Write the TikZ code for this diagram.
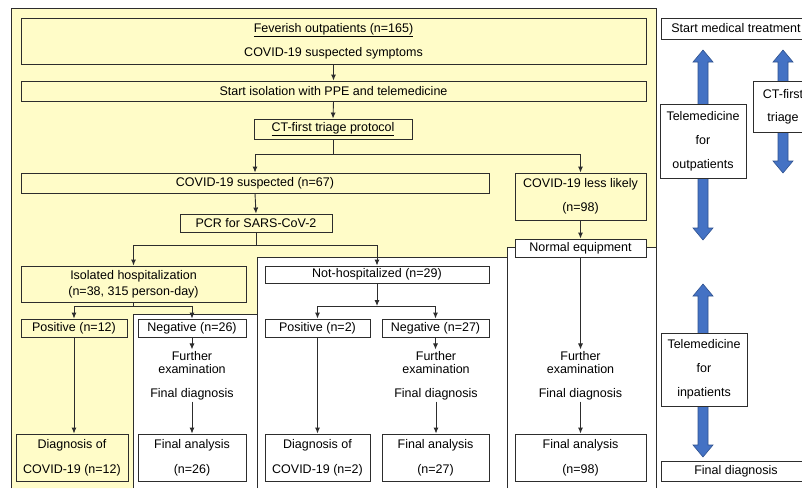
\documentclass[tikz,border=0pt]{standalone}
\usepackage{fontspec}
\setmainfont{Liberation Sans}
\usetikzlibrary{arrows.meta}
\definecolor{bgy}{RGB}{255,252,200}
\definecolor{lnc}{RGB}{45,45,45}
\definecolor{bfill}{RGB}{68,114,196}
\definecolor{bedge}{RGB}{47,82,143}
\newcommand\dblarrow[3]{%
  \filldraw[fill=bfill, draw=bedge, line width=0.6pt]
    (#1-5,#2+12) -- (#1-10,#2+12) -- (#1,#2) -- (#1+10,#2+12) -- (#1+5,#2+12)
    -- (#1+5,#3-12) -- (#1+10,#3-12) -- (#1,#3) -- (#1-10,#3-12) -- (#1-5,#3-12) -- cycle;}
\begin{document}
\begin{tikzpicture}[x=1pt,y=-1pt,
  box/.style={draw=lnc, line width=0.9pt, inner sep=0pt, align=center,
    font=\fontsize{12.5}{24}\selectfont},
  wbox/.style={box, fill=white},
  arr/.style={draw=lnc, line width=0.9pt, -{Latex[length=6pt,width=5pt]}},
  lnk/.style={draw=lnc, line width=0.9pt},
  txt/.style={inner sep=1.5pt, align=center, font=\fontsize{12.5}{13.5}\selectfont},
]
\useasboundingbox (0,0) rectangle (802,488);
\clip (0,0) rectangle (802,488);
\fill[white] (0,0) rectangle (802,488);
% yellow region
\fill[bgy] (11,8) -- (656,8) -- (656,247) -- (507,247) -- (507,257) -- (257,257)
  -- (257,314) -- (133,314) -- (133,488) -- (11,488) -- cycle;
\draw[lnk] (11,488) -- (11,8) -- (656,8) -- (656,488);
\draw[lnk] (133,488) -- (133,314) -- (257,314);
\draw[lnk] (257,488) -- (257,257) -- (507,257);
\draw[lnk] (507,488) -- (507,247) -- (656,247);

% blue double arrows (behind boxes)
\dblarrow{703}{50}{240}
\dblarrow{783}{50}{173}
\dblarrow{703}{284}{457}

% boxes
\node[box, minimum width=625, minimum height=46] (fev) at (333.5,41)
  {\underline{Feverish outpatients (n=165)}\\COVID-19 suspected symptoms};
\node[box, minimum width=625, minimum height=20] (iso) at (333.5,91)
  {Start isolation with PPE and telemedicine};
\node[box, minimum width=158, minimum height=20] (ct) at (333,129)
  {\underline{CT-first triage protocol}};
\node[box, minimum width=468, minimum height=20] (susp) at (255,183)
  {COVID-19 suspected (n=67)};
\node[box, minimum width=131, minimum height=47] (less) at (580.5,196.5)
  {COVID-19 less likely\\(n=98)};
\node[wbox, minimum width=131, minimum height=18] (normal) at (580.5,248)
  {Normal equipment};
\node[box, minimum width=152, minimum height=18] (pcr) at (256,223)
  {PCR for SARS-CoV-2};
\node[box, minimum width=225, minimum height=36, font=\fontsize{12.5}{16}\selectfont] (hosp) at (133.5,284)
  {Isolated hospitalization\\(n=38, 315 person-day)};
\node[wbox, minimum width=224, minimum height=17] (nothosp) at (377,274.5)
  {Not-hospitalized (n=29)};
\node[box, minimum width=106, minimum height=18] (pos12) at (74,328) {Positive (n=12)};
\node[wbox, minimum width=108, minimum height=18] (neg26) at (192,328) {Negative (n=26)};
\node[wbox, minimum width=105, minimum height=18] (pos2) at (317.5,328) {Positive (n=2)};
\node[wbox, minimum width=107, minimum height=18] (neg27) at (435.5,328) {Negative (n=27)};

\node[box, minimum width=112, minimum height=47, font=\fontsize{12.5}{25}\selectfont] (diag12) at (72,457.5)
  {Diagnosis of\\COVID-19 (n=12)};
\node[wbox, minimum width=108, minimum height=47, font=\fontsize{12.5}{25}\selectfont] (fa26) at (192,457.5)
  {Final analysis\\(n=26)};
\node[wbox, minimum width=105, minimum height=47, font=\fontsize{12.5}{25}\selectfont] (diag2) at (317.5,457.5)
  {Diagnosis of\\COVID-19 (n=2)};
\node[wbox, minimum width=107, minimum height=47, font=\fontsize{12.5}{25}\selectfont] (fa27) at (435.5,457.5)
  {Final analysis\\(n=27)};
\node[wbox, minimum width=131, minimum height=47, font=\fontsize{12.5}{25}\selectfont] (fa98) at (580.5,457.5)
  {Final analysis\\(n=98)};

% free texts
\node[txt] (fe26) at (192,362.5) {Further\\examination};
\node[txt] (fd26) at (192,394) {Final diagnosis};
\node[txt] (fe27) at (436,362.5) {Further\\examination};
\node[txt] (fd27) at (436,394) {Final diagnosis};
\node[txt] (fe98) at (580.5,362.5) {Further\\examination};
\node[txt] (fd98) at (580.5,394) {Final diagnosis};

% right column
\node[wbox, minimum width=150, minimum height=21] (smt) at (736,28.5) {Start medical treatment};
\node[wbox, minimum width=86, minimum height=74] (tmo) at (703,141) {Telemedicine\\for\\outpatients};
\node[wbox, minimum width=60, minimum height=51, font=\fontsize{12.5}{23}\selectfont] (ctf) at (783,106.5) {CT-first\\triage};
\node[wbox, minimum width=86, minimum height=73] (tmi) at (704,369.5) {Telemedicine\\for\\inpatients};
\node[wbox, minimum width=150, minimum height=20] (fdr) at (736,471) {Final diagnosis};

% connectors
\draw[arr] (fev.south) -- (iso.north);
\draw[arr] (iso.south) -- (ct.north);
\coordinate (j1) at (333,154);
\draw[lnk] (ct.south) -- (j1);
\draw[arr] (j1) -| (susp.north);
\draw[arr] (j1) -| (less.north);
\draw[arr] (less.south) -- (normal.north);
\draw[arr] (susp.south) -- (pcr.north);
\coordinate (j2) at (256,245);
\draw[lnk] (pcr.south) -- (j2);
\draw[arr] (j2) -| (hosp.north);
\draw[arr] (j2) -| (nothosp.north);
\coordinate (j3) at (133.5,306);
\draw[lnk] (hosp.south) -- (j3);
\draw[arr] (j3) -| (pos12.north);
\draw[arr] (j3) -| (neg26.north);
\coordinate (j4) at (377,306);
\draw[arr] (nothosp.south) -- (j4);
\draw[arr] (j4) -| (pos2.north);
\draw[arr] (j4) -| (neg27.north);
\draw[arr] (pos12.south) -- (pos12.south |- diag12.north);
\draw[arr] (pos2.south) -- (diag2.north);
\draw[arr] (neg26.south) -- (fe26.north);
\draw[arr] (fd26.south) -- (fa26.north);
\draw[arr] (neg27.south) -- (neg27.south |- fe27.north);
\draw[arr] (fd27.south) -- (fd27.south |- fa27.north);
\draw[arr] (normal.south) -- (fe98.north);
\draw[arr] (fd98.south) -- (fa98.north);
\end{tikzpicture}
\end{document}
